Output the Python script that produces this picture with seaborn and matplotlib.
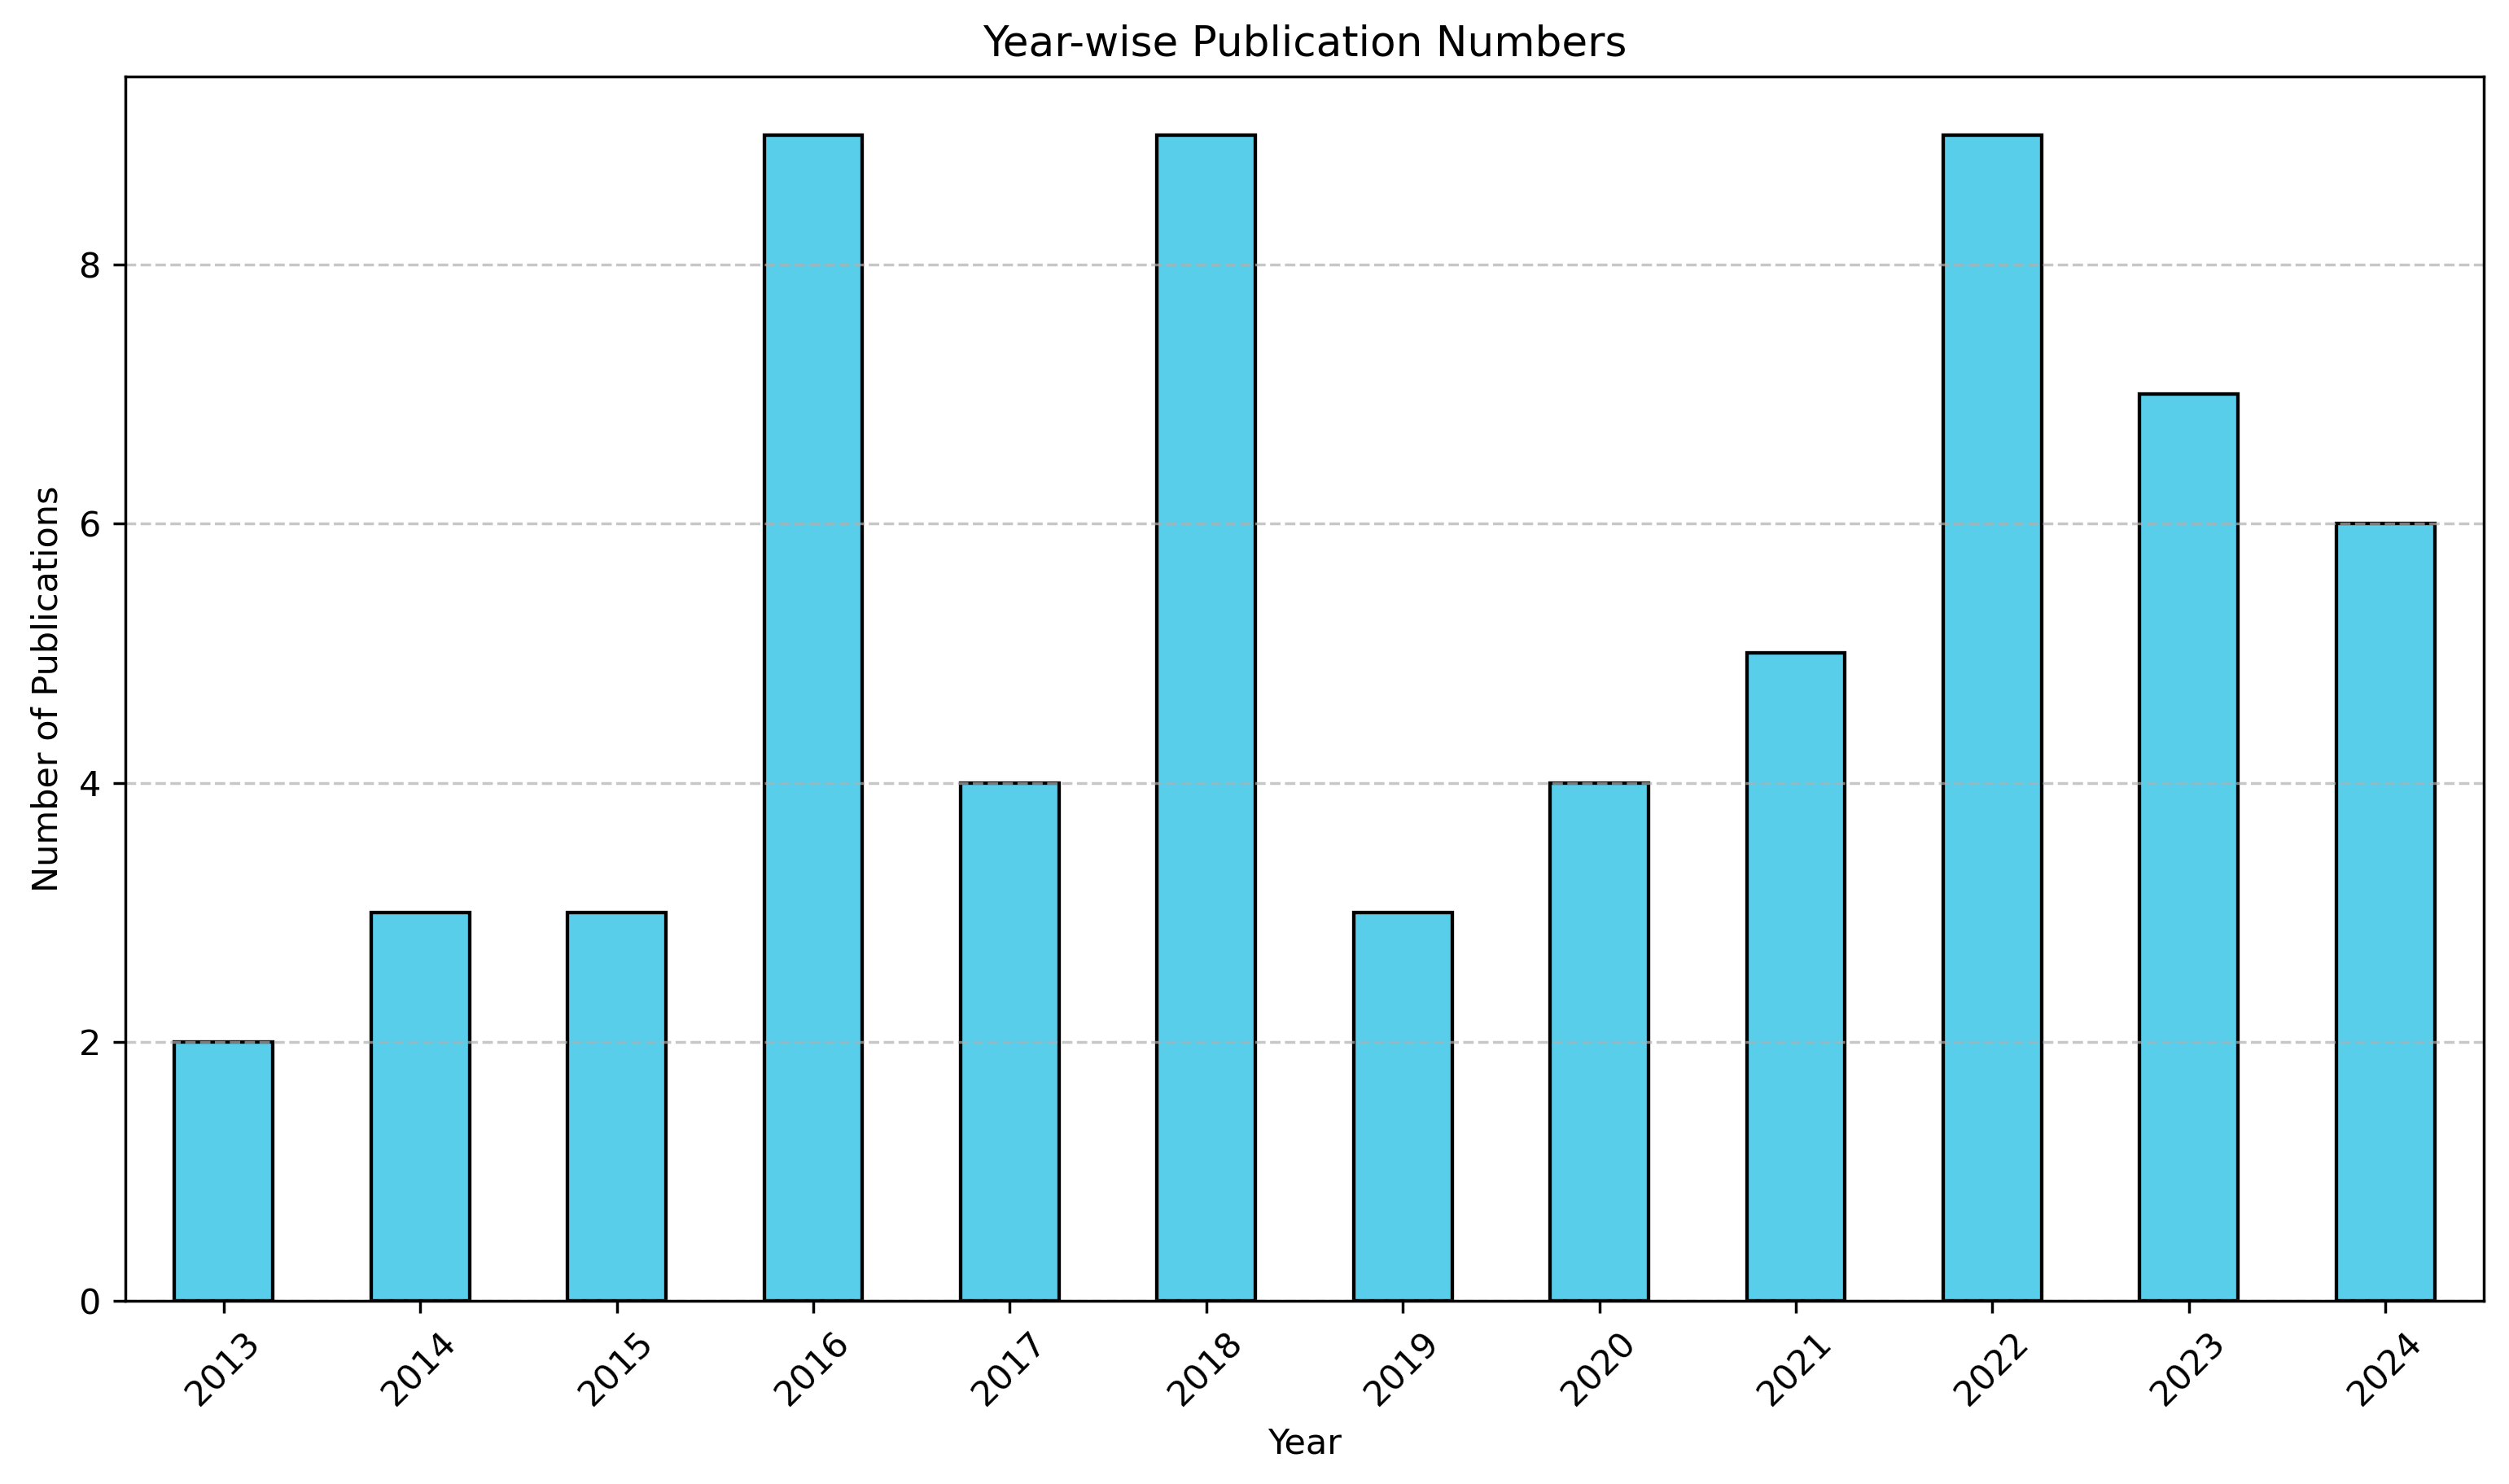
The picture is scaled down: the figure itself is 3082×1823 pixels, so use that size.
import matplotlib
matplotlib.use("Agg")
import matplotlib.pyplot as plt
import seaborn as sns
import pandas as pd

years = ["2013", "2014", "2015", "2016", "2017", "2018", "2019", "2020", "2021", "2022", "2023", "2024"]
counts = [2, 3, 3, 9, 4, 9, 3, 4, 5, 9, 7, 6]

df = pd.DataFrame({"Year": years, "Publications": counts})

DPI = 310
fig, ax = plt.subplots(figsize=(3082 / DPI, 1823 / DPI), dpi=DPI)
sns.barplot(data=df, x="Year", y="Publications", color="#58CEEB", saturation=1,
            width=0.5, edgecolor="black", linewidth=1, ax=ax)
ax.set_title("Year-wise Publication Numbers")
ax.set_xlabel("Year")
ax.set_ylabel("Number of Publications")
ax.tick_params(axis="x", rotation=45)
ax.set_yticks([0, 2, 4, 6, 8])
ax.grid(axis="y", linestyle="--", alpha=0.7)
fig.subplots_adjust(left=0.0500, right=0.9899, top=0.9483, bottom=0.1234)
fig.savefig("out.png", dpi=DPI)
